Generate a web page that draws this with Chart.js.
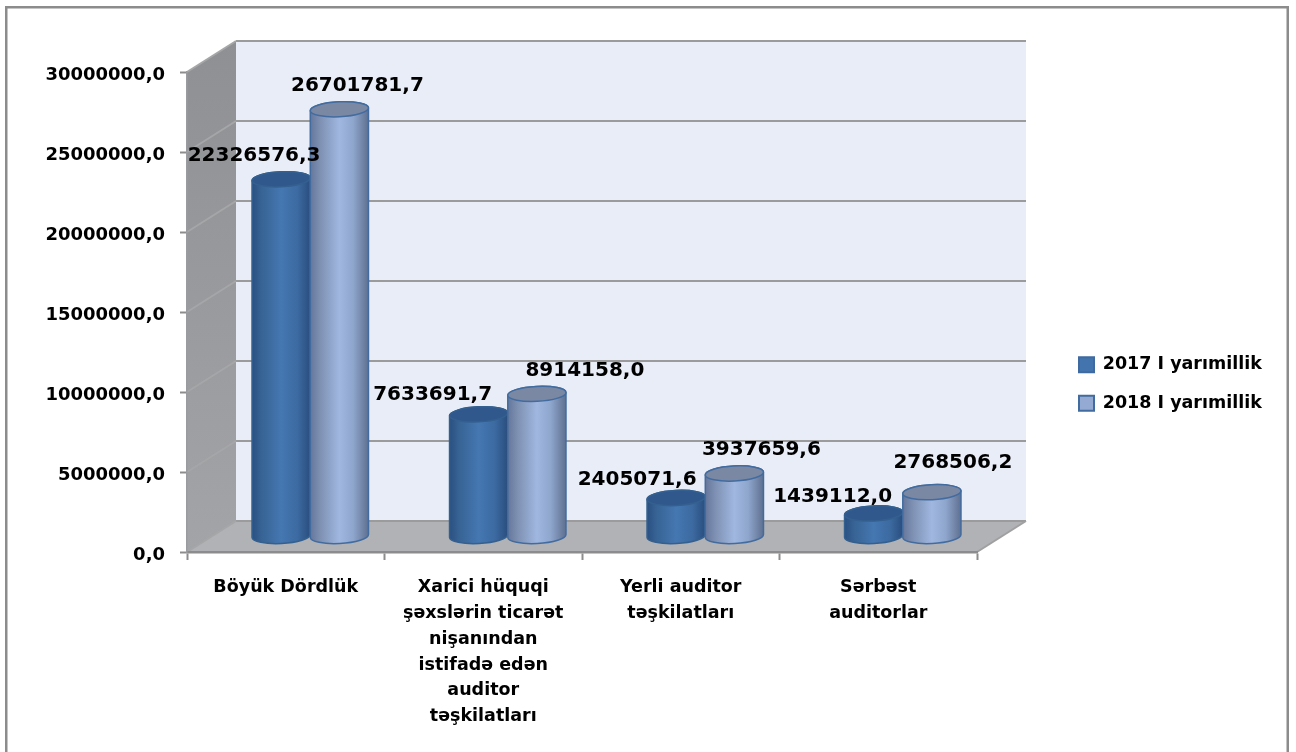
<!DOCTYPE html>
<html>
<head>
<meta charset="utf-8">
<style>html,body{margin:0;padding:0;background:#fff}canvas{display:block}</style>
<script src="https://cdn.jsdelivr.net/npm/chart.js@4"></script>
</head>
<body>
<canvas id="c" width="1296" height="752"></canvas>
<script>
const categories = [
  'Böyük Dördlük',
  ['Xarici hüquqi', 'şəxslərin ticarət', 'nişanından', 'istifadə edən', 'auditor', 'təşkilatları'],
  ['Yerli auditor', 'təşkilatları'],
  ['Sərbəst', 'auditorlar']
];
const seriesNames = ['2017 I yarımillik', '2018 I yarımillik'];
const values2017 = [22326576.3, 7633691.7, 2405071.6, 1439112.0];
const values2018 = [26701781.7, 8914158.0, 3937659.6, 2768506.2];
const axisMax = 30000000;
const axisStep = 5000000;

const FONT = '"DejaVu Sans", sans-serif';
const DEPTH_X = 49, DEPTH_Y = 31;
const LABEL_OFFSETS = [
  [[-27, -23], [-46, -20], [-39, -18], [-41, -17]],
  [[18, -23], [48, -23], [27, -24], [21, -29]]
];
const fmt = v => Number(v).toFixed(1).replace('.', ',');
const STYLES = [
  { stops: [[0,'#2a5082'],[0.16,'#376394'],[0.5,'#4577b1'],[0.78,'#3c6aa1'],[1,'#2a4e7e']],
    top: '#30588c', edge: '#34608f' },
  { stops: [[0,'#65769a'],[0.18,'#7f92b4'],[0.5,'#a0b7e0'],[0.74,'#8ea5cc'],[1,'#5f7090']],
    top: '#7a88a4', edge: '#426c9f' }
];

function cylinder(ctx, el, st) {
  const dx = DEPTH_X / 2, dy = -DEPTH_Y / 2;
  const L = el.x - el.width / 2 + dx, R = el.x + el.width / 2 + dx;
  const cx = (L + R) / 2, rx = (R - L) / 2, ry = 7.5, rot = -0.05;
  const yt = el.y + dy, yb = el.base + dy;
  const g = ctx.createLinearGradient(L, 0, R, 0);
  st.stops.forEach(s => g.addColorStop(s[0], s[1]));
  ctx.save();
  ctx.beginPath();
  ctx.ellipse(cx, yb, rx, ry, rot, Math.PI, 0, true);
  ctx.ellipse(cx, yt, rx, ry, rot, 0, Math.PI, true);
  ctx.closePath();
  ctx.fillStyle = g;
  ctx.fill();
  ctx.strokeStyle = st.edge;
  ctx.lineWidth = 1.5;
  ctx.stroke();
  ctx.beginPath();
  ctx.ellipse(cx, yt, rx, ry, rot, 0, Math.PI * 2);
  ctx.fillStyle = st.top;
  ctx.fill();
  ctx.stroke();
  ctx.restore();
}

const chrome3d = {
  id: 'chrome3d',
  beforeLayout(chart) {
    const lg = chart.legend;
    if (!lg._fitWrapped) {
      const fit = lg.fit;
      lg.fit = function () { fit.call(this); this.width = 319; };
      lg._fitWrapped = true;
    }
  },
  afterLayout(chart) {
    const lg = chart.legend;
    lg.left = 1058; lg.right = 1296;
    lg.top -= 28; lg.bottom -= 28;
  },
  beforeDraw(chart) {
    const { ctx, chartArea: a, scales: { y } } = chart;
    const l = a.left, r = a.right, t = a.top, b = a.bottom;
    ctx.save();
    ctx.fillStyle = '#fff';
    ctx.fillRect(0, 0, chart.width, chart.height);
    // outer frame
    ctx.fillStyle = '#8c8c8c';
    ctx.fillRect(5, 6, 2.5, 746);
    ctx.fillRect(5, 6, 1284, 2.5);
    ctx.fillRect(1286.5, 6, 2.5, 746);
    // back wall
    ctx.fillStyle = '#e9edf7';
    ctx.fillRect(l + DEPTH_X, t - DEPTH_Y, r - l, b - t);
    // side wall
    const sw = ctx.createLinearGradient(0, t - DEPTH_Y, 0, b);
    sw.addColorStop(0, '#8e9093'); sw.addColorStop(1, '#a3a4a7');
    ctx.fillStyle = sw;
    ctx.beginPath();
    ctx.moveTo(l, t); ctx.lineTo(l + DEPTH_X, t - DEPTH_Y);
    ctx.lineTo(l + DEPTH_X, b - DEPTH_Y); ctx.lineTo(l, b);
    ctx.closePath(); ctx.fill();
    // floor
    ctx.fillStyle = '#b1b2b5';
    ctx.beginPath();
    ctx.moveTo(l, b); ctx.lineTo(l + DEPTH_X, b - DEPTH_Y);
    ctx.lineTo(r + DEPTH_X, b - DEPTH_Y); ctx.lineTo(r, b);
    ctx.closePath(); ctx.fill();
    // grid lines from the value scale
    y.ticks.forEach(tk => {
      const py = y.getPixelForValue(tk.value);
      ctx.strokeStyle = '#9b9b9b';
      ctx.lineWidth = 2;
      ctx.beginPath();
      ctx.moveTo(l + DEPTH_X, py - DEPTH_Y);
      ctx.lineTo(r + DEPTH_X, py - DEPTH_Y);
      ctx.stroke();
      ctx.strokeStyle = '#a5a6a8';
      ctx.beginPath();
      ctx.moveTo(l, py);
      ctx.lineTo(l + DEPTH_X, py - DEPTH_Y);
      ctx.stroke();
    });
    ctx.strokeStyle = '#a0a0a0';
    ctx.beginPath();
    ctx.moveTo(r, b); ctx.lineTo(r + DEPTH_X, b - DEPTH_Y);
    ctx.stroke();
    ctx.restore();
  },
  beforeDatasetDraw() { return false; },
  afterDatasetsDraw(chart) {
    const { ctx } = chart;
    chart.data.datasets.forEach((d, i) => {
      chart.getDatasetMeta(i).data.forEach(el => cylinder(ctx, el, STYLES[i]));
    });
    ctx.save();
    ctx.fillStyle = '#000';
    ctx.font = 'bold 20px ' + FONT;
    ctx.textAlign = 'center';
    ctx.textBaseline = 'middle';
    chart.data.datasets.forEach((d, i) => {
      chart.getDatasetMeta(i).data.forEach((el, j) => {
        const off = LABEL_OFFSETS[i][j];
        ctx.fillText(fmt(d.data[j]), el.x + DEPTH_X / 2 + off[0], el.y - DEPTH_Y / 2 + off[1]);
      });
    });
    ctx.restore();
  }
};

new Chart(document.getElementById('c'), {
  type: 'bar',
  data: {
    labels: categories,
    datasets: [
      { label: seriesNames[0], data: values2017, backgroundColor: '#4374ad', borderColor: '#3f6aa0', borderWidth: 2 },
      { label: seriesNames[1], data: values2018, backgroundColor: '#94aad3', borderColor: '#426c9f', borderWidth: 2 }
    ]
  },
  plugins: [chrome3d],
  options: {
    responsive: false,
    animation: false,
    categoryPercentage: 0.59,
    barPercentage: 1,
    layout: { padding: { top: 72, bottom: 0, left: 0, right: 0 } },
    plugins: {
      title: { display: false },
      tooltip: { enabled: false },
      legend: {
        display: true,
        position: 'right',
        labels: {
          boxWidth: 15, boxHeight: 15, padding: 21, color: '#000',
          font: { family: FONT, size: 17.5, weight: 'bold' }
        }
      }
    },
    scales: {
      x: {
        offset: true,
        afterFit(s) { s.height = 200; },
        border: { color: '#8c8c8c', width: 2.5 },
        grid: { drawOnChartArea: false, drawTicks: true, tickLength: 8, tickColor: '#8c8c8c', tickWidth: 2, offset: true },
        ticks: {
          autoSkip: false, maxRotation: 0, minRotation: 0, padding: 15, color: '#000',
          font: { family: FONT, size: 17.5, weight: 'bold', lineHeight: 1.47 }
        }
      },
      y: {
        min: 0, max: axisMax,
        afterFit(s) { s.width = 187; },
        border: { color: '#9a9b9e', width: 1.5 },
        grid: { drawOnChartArea: false, drawTicks: true, tickLength: 7, tickColor: '#8c8c8c', tickWidth: 2 },
        ticks: {
          stepSize: axisStep, padding: 15, labelOffset: 3, color: '#000',
          font: { family: FONT, size: 18, weight: 'bold' },
          callback: v => fmt(v)
        }
      }
    }
  }
});
</script>
</body>
</html>
